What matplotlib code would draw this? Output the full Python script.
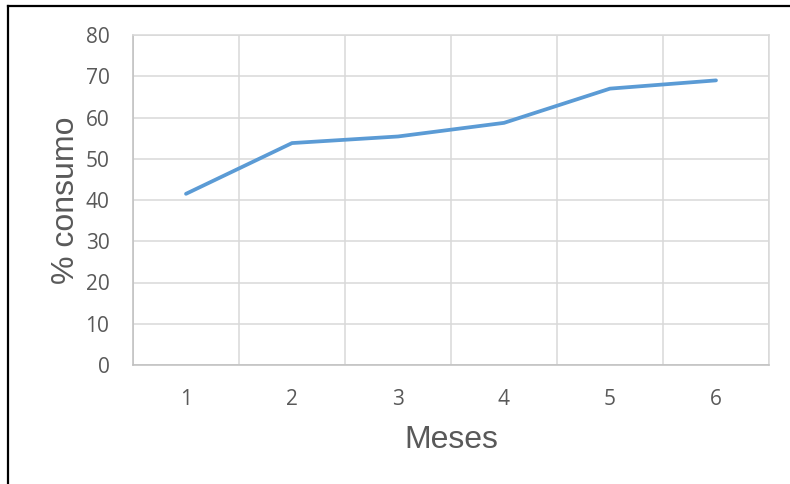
import matplotlib.pyplot as plt
from matplotlib.lines import Line2D

# monthly consumption share
meses = [1, 2, 3, 4, 5, 6]
consumo = [41.5, 53.8, 55.4, 58.7, 67.0, 69.0]
y_ticks = [0, 10, 20, 30, 40, 50, 60, 70, 80]

fig = plt.figure(figsize=(7.9, 4.84), dpi=100)
ax = fig.add_axes([133 / 790, 1 - 365 / 484, 636 / 790, 330 / 484])

ax.plot(meses, consumo, color='#5B9BD5', linewidth=2.7,
        solid_joinstyle='round', solid_capstyle='round', zorder=3)

ax.set_xlim(0.5, 6.5)
ax.set_ylim(0, 80)
ax.set_xticks(meses)
ax.set_xticks([m + 0.5 for m in [0] + meses], minor=True)
ax.set_yticks(y_ticks)

ax.grid(True, which='minor', axis='x', color='#D9D9D9', linewidth=1.1)
ax.grid(True, which='major', axis='y', color='#D9D9D9', linewidth=1.1)
ax.set_axisbelow(True)

ax.tick_params(which='both', length=0)
ax.tick_params(axis='y', pad=17, labelsize=15, labelcolor='#595959')
ax.tick_params(axis='x', pad=17, labelsize=15, labelcolor='#595959')
for lab in ax.get_xticklabels() + ax.get_yticklabels():
    lab.set_fontfamily('Open Sans')

for side in ['top', 'right']:
    ax.spines[side].set_color('#D9D9D9')
    ax.spines[side].set_linewidth(1.1)
for side in ['left', 'bottom']:
    ax.spines[side].set_color('#BFBFBF')
    ax.spines[side].set_linewidth(1.1)

ax.set_xlabel('Meses', fontsize=23, color='#595959', family='Liberation Sans', labelpad=11)
ax.set_ylabel('% consumo', fontsize=23, color='#595959', family='Liberation Sans', labelpad=3)

# black frame around the chart
fig.add_artist(Line2D([8 / 790, 8 / 790], [0, 1 - 6 / 484], color='black', linewidth=1.6))
fig.add_artist(Line2D([8 / 790, 1], [1 - 6 / 484, 1 - 6 / 484], color='black', linewidth=1.6))

fig.savefig('out.png', dpi=100)
